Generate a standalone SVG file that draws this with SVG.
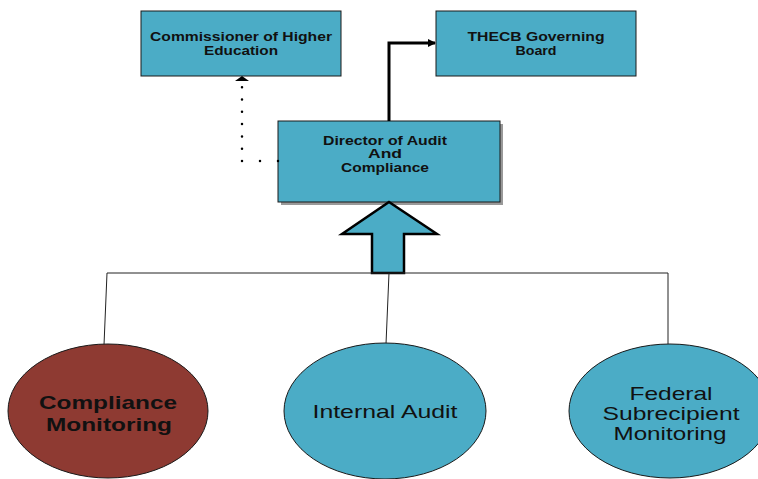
<svg xmlns="http://www.w3.org/2000/svg" width="758" height="479" viewBox="0 0 758 479">
<style>
.box{fill:#4BACC6;stroke:#1a1a1a;stroke-width:1}
.bt{font-family:"Liberation Sans",Arial,sans-serif;font-weight:bold;font-size:12px;fill:#111;text-anchor:middle}
.et{font-family:"Liberation Sans",Arial,sans-serif;font-size:18.5px;fill:#111;text-anchor:middle}
.line{stroke:#222;stroke-width:1;fill:none}
</style>
<defs>
<marker id="ah" markerWidth="8" markerHeight="8" refX="7" refY="4" orient="auto" markerUnits="userSpaceOnUse">
<path d="M0,0 L8,4 L0,8 Z" fill="#000"/>
</marker>
</defs>
<g id="commissioner">
<rect class="box" x="141" y="11" width="200" height="65"/>
<text class="bt" x="241" y="41" textLength="182" lengthAdjust="spacingAndGlyphs">Commissioner of Higher</text>
<text class="bt" x="241" y="55" textLength="74" lengthAdjust="spacingAndGlyphs">Education</text>
</g>
<g id="thecb">
<rect class="box" x="436" y="11" width="200" height="65"/>
<text class="bt" x="536" y="41" textLength="137" lengthAdjust="spacingAndGlyphs">THECB Governing</text>
<text class="bt" x="536" y="55" textLength="41" lengthAdjust="spacingAndGlyphs">Board</text>
</g>
<g id="director">
<rect x="281" y="124" width="222" height="81" fill="#999"/>
<rect class="box" x="278" y="121" width="222" height="81"/>
<text class="bt" x="385" y="145" textLength="124" lengthAdjust="spacingAndGlyphs">Director of Audit</text>
<text class="bt" x="385" y="158" textLength="34" lengthAdjust="spacingAndGlyphs">And</text>
<text class="bt" x="385" y="172" textLength="88" lengthAdjust="spacingAndGlyphs">Compliance</text>
</g>
<g id="connectors">
<path d="M389,121 V43 H435" stroke="#000" stroke-width="3" fill="none" marker-end="url(#ah)"/>
<path d="M278,161 H242" stroke="#000" stroke-width="2.5" stroke-linecap="round" stroke-dasharray="0 18" fill="none"/>
<path d="M242,161 V87" stroke="#000" stroke-width="2.5" stroke-linecap="round" stroke-dasharray="0 12.3" fill="none"/>
<path d="M235,81 L242,76 L249,81 Z" fill="#000"/>
<path d="M389,202 L437,234 L404,234 L404,273 L372,273 L372,234 L342,234 Z" fill="#4BACC6" stroke="#000" stroke-width="2.5" stroke-linejoin="miter"/>
<path class="line" d="M107,273 H668"/>
<path class="line" d="M107,273 L104,345"/>
<path class="line" d="M389,273 L386,344"/>
<path class="line" d="M668,273 V344"/>
</g>
<g id="compliance-monitoring">
<ellipse cx="108" cy="411" rx="100" ry="67" fill="#8E3A32" stroke="#1a1a1a" stroke-width="1"/>
<text class="et" x="108" y="409" font-weight="bold" textLength="138" lengthAdjust="spacingAndGlyphs">Compliance</text>
<text class="et" x="109" y="431" font-weight="bold" textLength="126" lengthAdjust="spacingAndGlyphs">Monitoring</text>
</g>
<g id="internal-audit">
<ellipse cx="385" cy="411" rx="101" ry="68" fill="#4BACC6" stroke="#1a1a1a" stroke-width="1"/>
<text class="et" x="385" y="418" textLength="145" lengthAdjust="spacingAndGlyphs">Internal Audit</text>
</g>
<g id="federal">
<ellipse cx="670" cy="411" rx="101" ry="67" fill="#4BACC6" stroke="#1a1a1a" stroke-width="1"/>
<text class="et" x="671" y="400" textLength="83" lengthAdjust="spacingAndGlyphs">Federal</text>
<text class="et" x="671" y="420" textLength="137" lengthAdjust="spacingAndGlyphs">Subrecipient</text>
<text class="et" x="670" y="440" textLength="113" lengthAdjust="spacingAndGlyphs">Monitoring</text>
</g>
</svg>
